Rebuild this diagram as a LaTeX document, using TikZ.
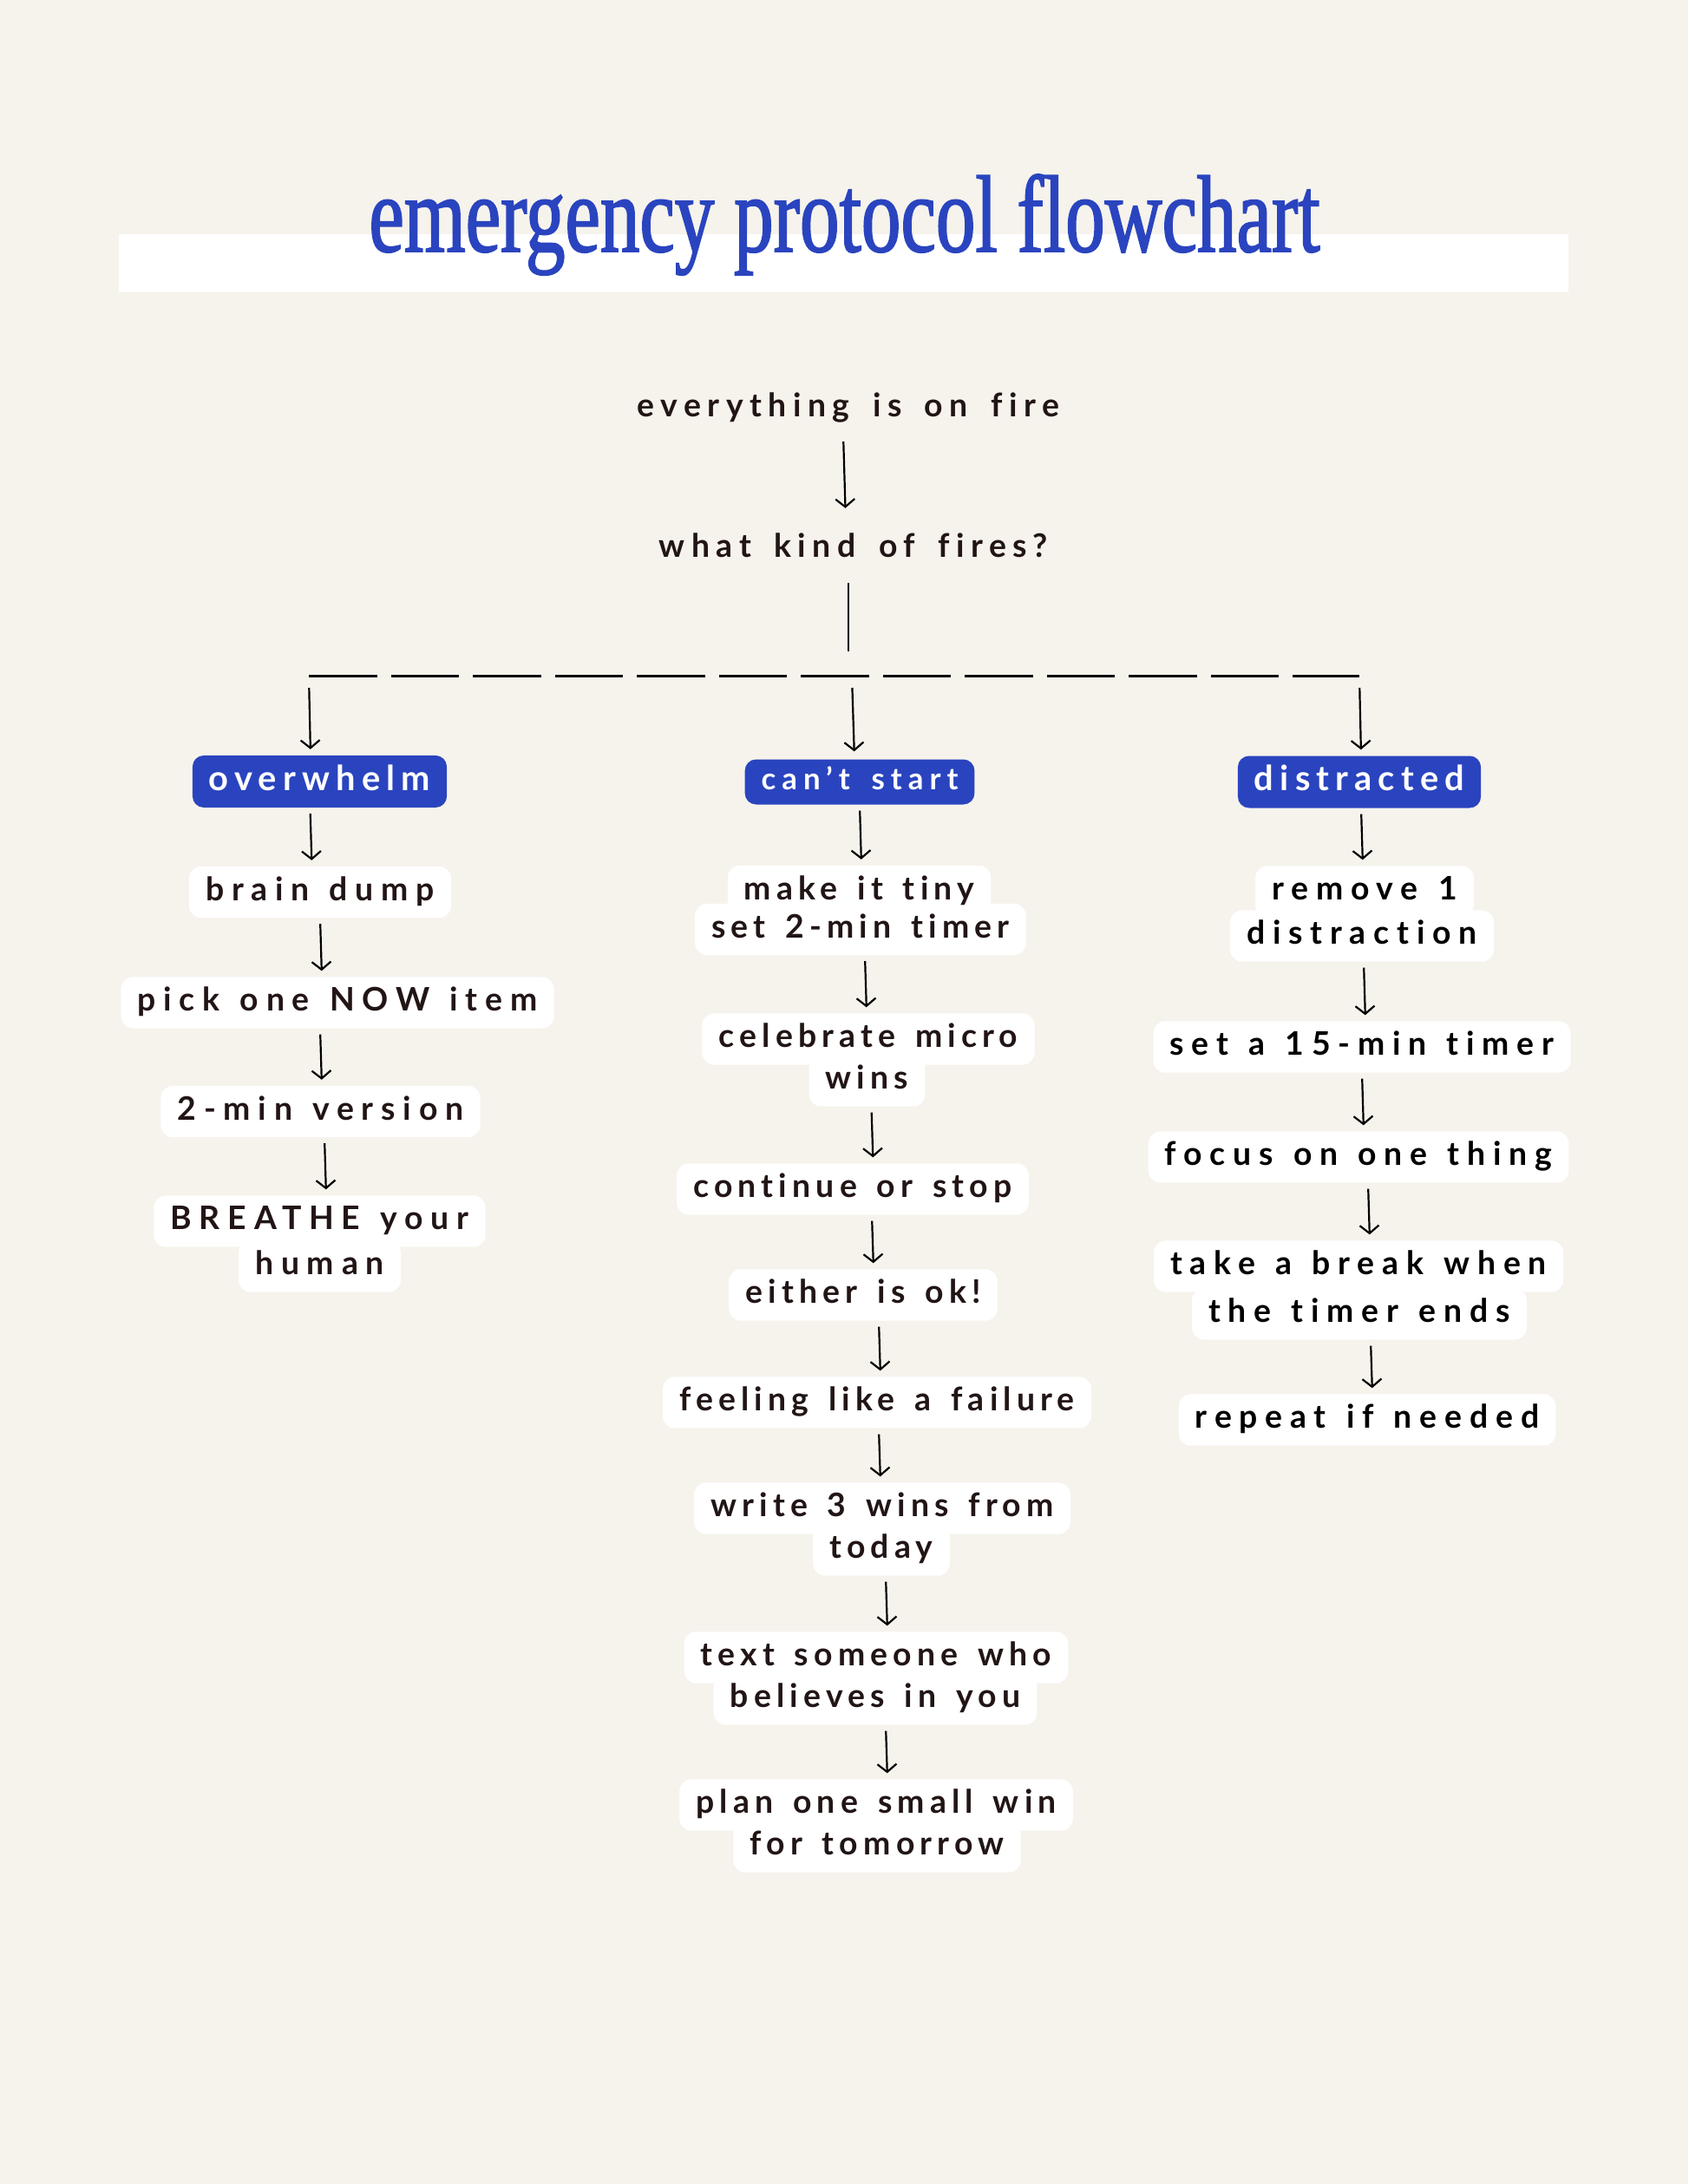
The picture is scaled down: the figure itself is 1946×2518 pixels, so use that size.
\documentclass[tikz,border=0pt]{standalone}
\usepackage{fontspec}
\usetikzlibrary{arrows.meta}

\newfontfamily\flowfont{Lato}[LetterSpace=16.5, WordSpace=1.5, Ligatures={NoCommon,NoContextual,NoRare}]
\newfontfamily\catfont{Lato}[LetterSpace=18, Ligatures={NoCommon,NoContextual,NoRare}]
\newfontfamily\sidefont{Lato}[LetterSpace=23.5, WordSpace=1.3, Ligatures={NoCommon,NoContextual,NoRare}]
\newfontfamily\topfont{Lato}[LetterSpace=20, WordSpace=1.6, Ligatures={NoCommon,NoContextual,NoRare}]
\newfontfamily\titlefont{Liberation Serif}[FakeStretch=0.72, FakeBold=1.4]

\definecolor{paper}{HTML}{F6F3EC}
\definecolor{ink}{HTML}{221515}
\definecolor{royal}{HTML}{2A44BF}

\pgfdeclarelayer{cards}
\pgfsetlayers{cards,main}

\tikzset{
    title/.style={font=\titlefont\fontsize{127}{127}\selectfont, text=royal, inner sep=0pt, anchor=base},
    plain/.style={font=\flowfont\bfseries\fontsize{37.5}{45}\selectfont, text=ink,
        text height=28bp, text depth=9bp, inner xsep=19bp, inner ysep=11bp},
    side/.style={font=\sidefont\bfseries\fontsize{37.5}{45}\selectfont},
    top/.style={font=\topfont\bfseries\fontsize{37.5}{45}\selectfont},
    dark/.style={side, text=black},
    cat/.style={plain, font=\catfont\bfseries\fontsize{40}{48}\selectfont, text=white,
        fill=royal, rounded corners=13bp, text height=29bp},
    catsmall/.style={font=\topfont\bfseries\fontsize{35}{42}\selectfont, text height=27bp, inner ysep=8bp},
    card/.style={fill=white, rounded corners=14bp},
    arr/.style={draw=black, line width=2.2bp, -{Straight Barb[length=9bp,width=22bp]},
        shorten <=7bp, shorten >=7bp},
    stem/.style={draw=black, line width=2.2bp},
    bus/.style={draw=black, line width=3bp, dash pattern=on 78.5bp off 16bp},
}

\begin{document}
\begin{tikzpicture}[x=1bp,y=-1bp]
    \begin{pgfonlayer}{cards}
        \fill[paper] (0,0) rectangle (1946,2518);
    \end{pgfonlayer}
    \useasboundingbox (0,0) rectangle (1946,2518);

    % title
    \fill[white] (137,270) rectangle (1808,337);
    \node[title] (head) at (973.5,290) {emergency protocol flowchart};

    % start
    \node[plain, top] (fire) at (978,470.5) {everything is on fire};
    \node[plain, top] (kind) at (984,632.5) {what kind of fires?};
    \coordinate (fork) at (978,751);
    \coordinate (busL) at (356,779);
    \coordinate (busM) at (982,779);
    \coordinate (busR) at (1567,779);

    % categories
    \node[cat] (ow) at (368.5,901) {overwhelm};
    \node[cat, catsmall] (cs) at (991,901.5) {can’t start};
    \node[cat] (ds) at (1567,901.5) {distracted};

    % overwhelm
    \node[plain, side] (bd) at (369,1028.5) {brain dump};
    \node[plain, side] (pk) at (389,1156) {pick one NOW item};
    \node[plain, side] (mv) at (369.5,1281.5) {2-min version};
    \node[plain, side] (br1) at (368.5,1408) {BREATHE your};
    \node[plain, side] (br2) at (368.5,1460) {human};

    % can't start
    \node[plain] (mt1) at (990.5,1027.5) {make it tiny};
    \node[plain] (mt2) at (992,1071.5) {set 2-min timer};
    \node[plain] (cm1) at (1001,1198) {celebrate micro};
    \node[plain] (cm2) at (999.5,1246) {wins};
    \node[plain] (co) at (983,1371) {continue or stop};
    \node[plain] (ei) at (995,1493) {either is ok!};
    \node[plain] (fl) at (1011,1617) {feeling like a failure};
    \node[plain] (wr1) at (1017,1739) {write 3 wins from};
    \node[plain] (wr2) at (1016,1787) {today};
    \node[plain] (ts1) at (1010,1911) {text someone who};
    \node[plain] (ts2) at (1009,1959) {believes in you};
    \node[plain] (pl1) at (1010,2081) {plan one small win};
    \node[plain] (pl2) at (1011,2129) {for tomorrow};

    % distracted
    \node[plain, dark] (rm1) at (1573,1028) {remove 1};
    \node[plain, dark] (rm2) at (1570,1079) {distraction};
    \node[plain, dark] (st) at (1570,1207) {set a 15-min timer};
    \node[plain, dark] (fo) at (1566,1334) {focus on one thing};
    \node[plain, dark] (tb1) at (1566,1460) {take a break when};
    \node[plain, dark] (tb2) at (1567,1515) {the timer ends};
    \node[plain, dark] (rp) at (1576,1637) {repeat if needed};

    \begin{pgfonlayer}{cards}
        \foreach \n in {bd,pk,mv,br1,br2,mt1,mt2,cm1,cm2,co,ei,fl,wr1,wr2,ts1,ts2,pl1,pl2,rm1,rm2,st,fo,tb1,tb2,rp}
            \fill[card] (\n.north west) rectangle (\n.south east);
    \end{pgfonlayer}

    % fork
    \draw[arr, shorten <=9bp, shorten >=17bp] ([xshift=-6bp]fire.south) -- ([xshift=-3bp]fire.south |- kind.north);
    \draw[stem, shorten <=10bp] (kind.south -| fork) -- (fork);
    \draw[bus] (busL) -- (busR);
    \draw[arr, shorten <=14bp] (busL) -- ([xshift=2bp]busL |- ow.north);
    \draw[arr, shorten <=14bp, shorten >=9bp] (busM) -- ([xshift=3bp]busM |- cs.north);
    \draw[arr, shorten <=14bp] (busR) -- ([xshift=2bp]busR |- ds.north);

    % steps
    \foreach \a/\b/\sh in {ow/bd/-11, bd/pk/0, pk/mv/-20, mv/br1/4.5,
            cs/mt1/0, mt2/cm1/5, cm2/co/5, co/ei/22, ei/fl/18, fl/wr1/2, wr2/ts1/5, ts2/pl1/12,
            ds/rm1/2, rm2/st/2, st/fo/0, fo/tb1/11, tb2/rp/13}
        \draw[arr] ([xshift=\sh bp]\a.south) -- ([xshift=\sh bp+2bp]\a.south |- \b.north);
\end{tikzpicture}
\end{document}
